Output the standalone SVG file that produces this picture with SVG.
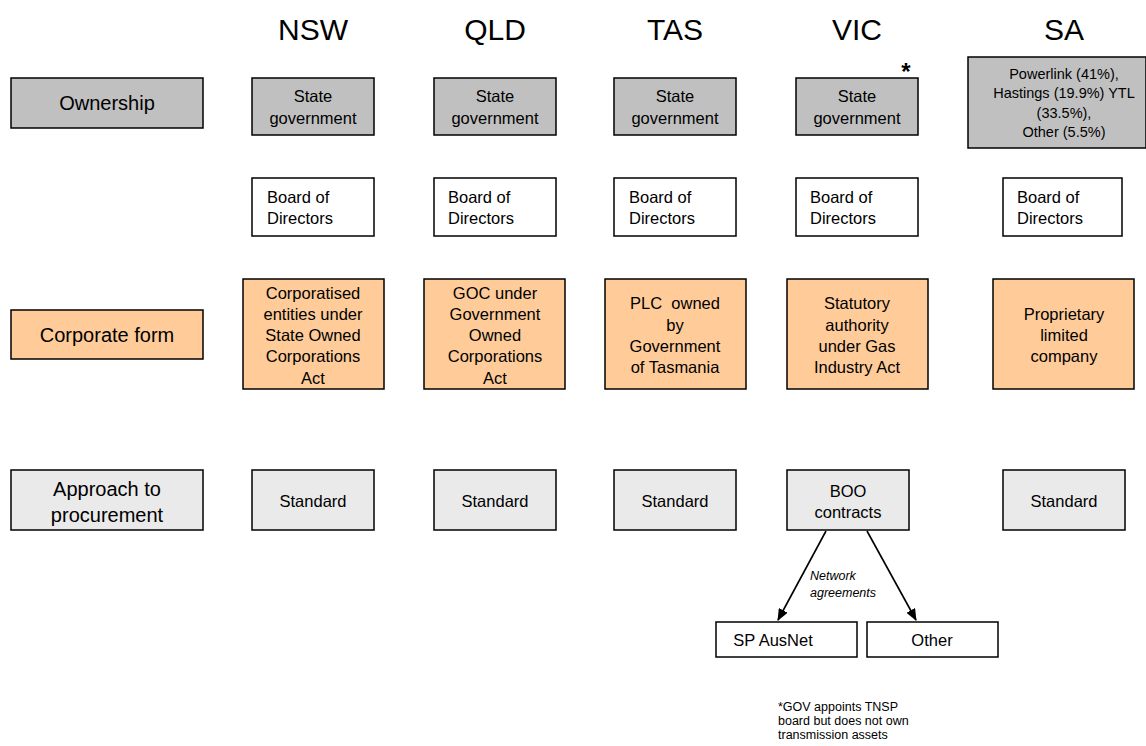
<svg xmlns="http://www.w3.org/2000/svg" width="1146" height="746" viewBox="0 0 1146 746">
<style>
text{font-family:"Liberation Sans",Arial,sans-serif;fill:#000}
.hd{font-size:30px;text-anchor:middle}
.lb{font-size:20px;text-anchor:middle}
.t{font-size:16.5px;text-anchor:middle}
.tl{font-size:16.5px}
.s{font-size:14.5px;text-anchor:middle}
.it{font-size:12.5px;font-style:italic}
.fn{font-size:12.5px}
rect{stroke:#000;stroke-width:1.5}
.g{fill:#c0c0c0}
.o{fill:#ffcc99}
.l{fill:#eaeaea}
.w{fill:#fff}
.c{stroke:#000;stroke-width:1.6;fill:none}
</style>
<defs>
<marker id="ah" viewBox="0 0 12 10" refX="11" refY="5" markerWidth="12" markerHeight="10" orient="auto" markerUnits="userSpaceOnUse"><path d="M0,0 L12,5 L0,10 z" fill="#000"/></marker>
</defs>
<rect width="1146" height="746" fill="#fff" style="stroke:none"/>
<g id="headers">
<text class="hd" x="313" y="40">NSW</text>
<text class="hd" x="495" y="40">QLD</text>
<text class="hd" x="675" y="40">TAS</text>
<text class="hd" x="857" y="40">VIC</text>
<text class="hd" x="1064" y="40">SA</text>
</g>
<g id="label-ownership"><rect class="g" x="11" y="78" width="192" height="50"/><text class="lb" x="107" y="110">Ownership</text></g>
<g id="label-corporate"><rect class="o" x="11" y="310" width="192" height="49"/><text class="lb" x="107" y="342">Corporate form</text></g>
<g id="label-procurement"><rect class="l" x="11" y="470" width="192" height="60"/><text class="lb" x="107" y="496">Approach to</text><text class="lb" x="107" y="522">procurement</text></g>

<g id="own-nsw"><rect class="g" x="252" y="78" width="122" height="57"/><text class="t" x="313" y="102">State</text><text class="t" x="313" y="124">government</text></g>
<g id="own-qld"><rect class="g" x="434" y="78" width="122" height="57"/><text class="t" x="495" y="102">State</text><text class="t" x="495" y="124">government</text></g>
<g id="own-tas"><rect class="g" x="614" y="78" width="122" height="57"/><text class="t" x="675" y="102">State</text><text class="t" x="675" y="124">government</text></g>
<g id="own-vic"><rect class="g" x="796" y="78" width="122" height="57"/><text class="t" x="857" y="102">State</text><text class="t" x="857" y="124">government</text><text x="906" y="80" style="font-size:24px;font-weight:bold;text-anchor:middle">*</text></g>
<g id="own-sa"><rect class="g" x="968" y="57" width="178" height="91"/><text class="s" x="1064" y="79">Powerlink (41%),</text><text class="s" x="1064" y="98">Hastings (19.9%) YTL</text><text class="s" x="1064" y="118">(33.5%),</text><text class="s" x="1064" y="137">Other (5.5%)</text></g>

<g id="board-nsw"><rect class="w" x="252" y="178" width="122" height="58"/><text class="tl" x="267" y="203">Board of</text><text class="tl" x="267" y="224">Directors</text></g>
<g id="board-qld"><rect class="w" x="434" y="178" width="122" height="58"/><text class="tl" x="448" y="203">Board of</text><text class="tl" x="448" y="224">Directors</text></g>
<g id="board-tas"><rect class="w" x="614" y="178" width="122" height="58"/><text class="tl" x="629" y="203">Board of</text><text class="tl" x="629" y="224">Directors</text></g>
<g id="board-vic"><rect class="w" x="796" y="178" width="122" height="58"/><text class="tl" x="810" y="203">Board of</text><text class="tl" x="810" y="224">Directors</text></g>
<g id="board-sa"><rect class="w" x="1003" y="178" width="119" height="58"/><text class="tl" x="1017" y="203">Board of</text><text class="tl" x="1017" y="224">Directors</text></g>

<g id="corp-nsw"><rect class="o" x="243" y="279" width="141" height="110"/><text class="t" x="313" y="299">Corporatised</text><text class="t" x="313" y="320">entities under</text><text class="t" x="313" y="341">State Owned</text><text class="t" x="313" y="362">Corporations</text><text class="t" x="313" y="384">Act</text></g>
<g id="corp-qld"><rect class="o" x="424" y="279" width="141" height="110"/><text class="t" x="495" y="299">GOC under</text><text class="t" x="495" y="320">Government</text><text class="t" x="495" y="341">Owned</text><text class="t" x="495" y="362">Corporations</text><text class="t" x="495" y="384">Act</text></g>
<g id="corp-tas"><rect class="o" x="605" y="279" width="141" height="110"/><text class="t" x="675" y="309" style="white-space:pre">PLC  owned</text><text class="t" x="675" y="331">by</text><text class="t" x="675" y="352">Government</text><text class="t" x="675" y="373">of Tasmania</text></g>
<g id="corp-vic"><rect class="o" x="787" y="279" width="141" height="110"/><text class="t" x="857" y="309">Statutory</text><text class="t" x="857" y="331">authority</text><text class="t" x="857" y="352">under Gas</text><text class="t" x="857" y="373">Industry Act</text></g>
<g id="corp-sa"><rect class="o" x="993" y="279" width="141" height="110"/><text class="t" x="1064" y="320">Proprietary</text><text class="t" x="1064" y="341">limited</text><text class="t" x="1064" y="362">company</text></g>

<g id="proc-nsw"><rect class="l" x="252" y="470" width="122" height="60"/><text class="t" x="313" y="507">Standard</text></g>
<g id="proc-qld"><rect class="l" x="434" y="470" width="122" height="60"/><text class="t" x="495" y="507">Standard</text></g>
<g id="proc-tas"><rect class="l" x="614" y="470" width="122" height="60"/><text class="t" x="675" y="507">Standard</text></g>
<g id="proc-vic"><rect class="l" x="787" y="470" width="122" height="60"/><text class="t" x="848" y="497">BOO</text><text class="t" x="848" y="518">contracts</text></g>
<g id="proc-sa"><rect class="l" x="1003" y="470" width="122" height="60"/><text class="t" x="1064" y="507">Standard</text></g>

<g id="spausnet"><rect class="w" x="716" y="622" width="141" height="35"/><text class="t" x="773" y="646">SP AusNet</text></g>
<g id="other"><rect class="w" x="867" y="622" width="131" height="35"/><text class="t" x="932" y="646">Other</text></g>

<g id="connectors">
<line class="c" x1="826" y1="531" x2="778" y2="620" marker-end="url(#ah)"/>
<line class="c" x1="867" y1="531" x2="916" y2="620" marker-end="url(#ah)"/>
<text class="it" x="810" y="580">Network</text>
<text class="it" x="810" y="597">agreements</text>
</g>

<g id="footnote">
<text class="fn" x="778" y="711">*GOV appoints TNSP</text>
<text class="fn" x="778" y="725">board but does not own</text>
<text class="fn" x="778" y="739">transmission assets</text>
</g>
</svg>
